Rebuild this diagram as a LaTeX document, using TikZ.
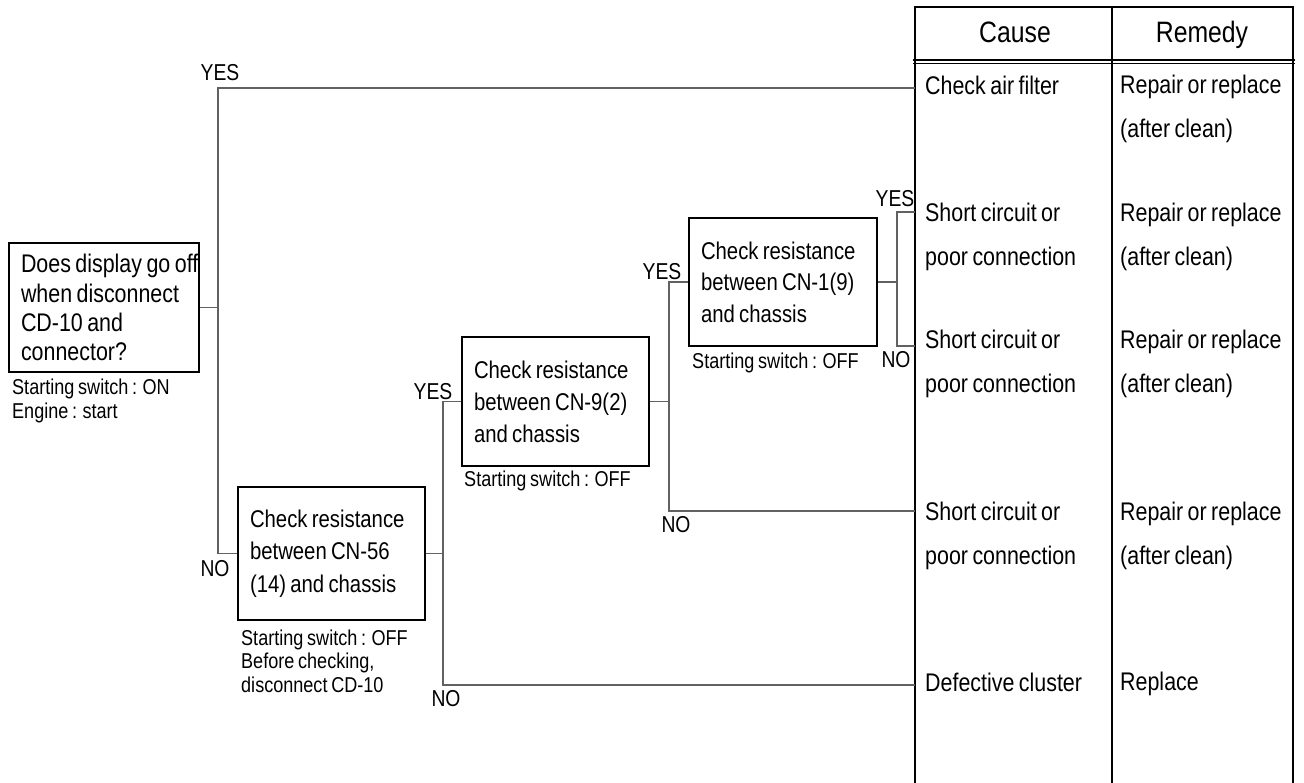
\documentclass[tikz,border=0pt]{standalone}
\usepackage{fontspec}
\setmainfont{Liberation Sans}
\newfontfamily\cond{Liberation Sans}[FakeStretch=0.84, WordSpace=0.75]
\begin{document}
\begin{tikzpicture}[x=1pt,y=-1pt,
  box/.style={draw=black, line width=1.5pt, align=flush left, inner xsep=12pt, inner ysep=0pt, font=\cond\fontsize{24.2}{31}\selectfont},
  note/.style={anchor=west, align=flush left, inner sep=0pt, font=\cond\fontsize{21.5}{23.5}\selectfont},
  lbl/.style={inner sep=0pt, font=\cond\fontsize{23}{24}\selectfont},
  conn/.style={draw=black!62, line width=1.3pt},
  cell/.style={anchor=west, align=flush left, inner sep=0pt, font=\cond\fontsize{25.5}{43.5}\selectfont},
  head/.style={inner sep=0pt, anchor=base, font=\cond\fontsize{29.5}{30}\selectfont},
  tline/.style={draw=black, line width=1.8pt}]
\useasboundingbox (0,0) rectangle (1304,783);

% table
\draw[tline] (915,783) -- (915,7) -- (1293,7) -- (1293,783);
\draw[tline] (1112,7) -- (1112,783);
\draw[draw=black, line width=1.2pt] (913,60) -- (1295,60);
\draw[draw=black, line width=1.2pt] (913,63.5) -- (1295,63.5);
\node[head] (hcause) at (1015,43) {Cause};
\node[head] (hremedy) at (1202,43) {Remedy};

\node[cell] (c1) at (925,85) {Check air filter};
\node[cell] (m1) at (1120,109) {Repair or replace\\(after clean)};
\node[cell] (c2) at (925,237) {Short circuit or\\poor connection};
\node[cell] (m2) at (1120,237) {Repair or replace\\(after clean)};
\node[cell] (c3) at (925,364) {Short circuit or\\poor connection};
\node[cell] (m3) at (1120,364) {Repair or replace\\(after clean)};
\node[cell] (c4) at (925,536) {Short circuit or\\poor connection};
\node[cell] (m4) at (1120,536) {Repair or replace\\(after clean)};
\node[cell] (c5) at (925,682) {Defective cluster};
\node[cell] (m5) at (1120,684) {Replace};

\coordinate (r1) at (915,88);
\coordinate (r2) at (915,212);
\coordinate (r3) at (915,346);
\coordinate (r4) at (915,511);
\coordinate (r5) at (915,685);

% boxes
\node[box, text width=166pt, minimum height=129pt, font=\cond\fontsize{25.5}{29.2}\selectfont] (b1) at (104,307.5)
  {\mbox{Does display go off}\\\mbox{when disconnect}\\CD-10 and\\connector?};
\node[note] (n1) at (12,401) {Starting switch : ON\\Engine : start};

\node[box, text width=163pt, minimum height=133pt, font=\cond\fontsize{24.2}{32.5}\selectfont] (b2) at (331.5,553.5)
  {Check resistance\\between CN-56\\(14) and chassis};
\node[note] (n2) at (241,661) {Starting switch : OFF\\Before checking,\\disconnect CD-10};

\node[box, text width=163pt, minimum height=129pt, font=\cond\fontsize{24.2}{32}\selectfont] (b3) at (555.5,401.5)
  {Check resistance\\between CN-9(2)\\and chassis};
\node[note] (n3) at (464,481) {Starting switch : OFF};

\node[box, text width=164pt, minimum height=128pt, font=\cond\fontsize{24.2}{31.5}\selectfont] (b4) at (783,282)
  {Check resistance\\between CN-1(9)\\and chassis};
\node[note] (n4) at (692,363) {Starting switch : OFF};

% junctions
\coordinate (j1) at (218,307.5);
\coordinate (j2) at (443,553.5);
\coordinate (j3) at (669,401.5);
\coordinate (j4) at (897,282);

\draw[conn] (b1.east) -- (j1);
\draw[conn] (j1) |- (r1);
\draw[conn] (j1) |- (b2.west);
\draw[conn] (b2.east) -- (j2);
\draw[conn] (j2) |- (b3.west);
\draw[conn] (j2) |- (r5);
\draw[conn] (b3.east) -- (j3);
\draw[conn] (j3) |- (b4.west);
\draw[conn] (j3) |- (r4);
\draw[conn] (b4.east) -- (j4);
\draw[conn] (j4) |- (r2);
\draw[conn] (j4) |- (r3);

% labels
\node[lbl] (y1) at (220,73) {YES};
\node[lbl] (no1) at (215,569) {NO};
\node[lbl] (y2) at (433,392) {YES};
\node[lbl] (no2) at (446,699) {NO};
\node[lbl] (y3) at (662,272) {YES};
\node[lbl] (no3) at (676,525) {NO};
\node[lbl] (y4) at (895,199) {YES};
\node[lbl] (no4) at (896,360) {NO};
\end{tikzpicture}
\end{document}
